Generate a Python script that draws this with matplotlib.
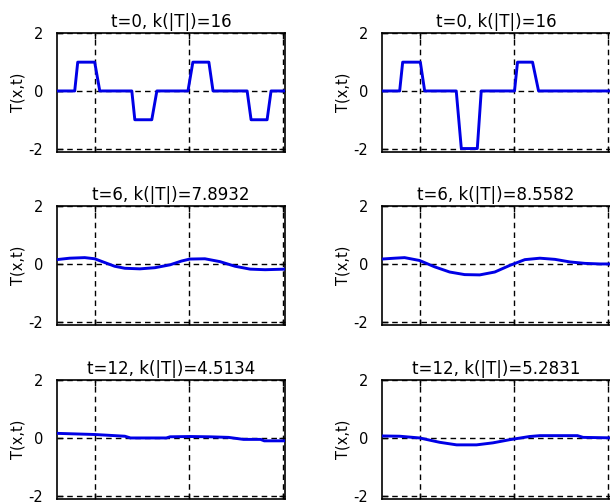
import numpy as np
import matplotlib
matplotlib.use("Agg")
import matplotlib.pyplot as plt

plt.rcParams['font.family'] = ['DejaVu Sans']

# data (x in axis units, x grid at 0 and 5)
x_a0 = [-2.02, -1.06, -0.9, 0.0, 0.27, 1.97, 2.13, 3.03, 3.3, 4.95, 5.21, 6.06, 6.28, 8.09, 8.30, 9.15, 9.36, 10.1]
y_a0 = [0, 0, 1, 1, 0, 0, -1, -1, 0, 0, 1, 1, 0, 0, -1, -1, 0, 0]

x_b0 = [-2.02, -1.06, -0.9, 0.04, 0.27, 1.95, 2.22, 3.07, 3.28, 5.05, 5.21, 6.01, 6.33, 10.5]
y_b0 = [0, 0, 1, 1, 0, 0, -2, -2, 0, 0, 1, 1, 0, 0]

x_a6 = [-2.02, -1.33, -0.53, 0.0, 0.53, 1.06, 1.6, 2.4, 3.2, 4.0, 4.6, 5.05, 5.85, 6.65, 7.45, 8.25, 9.04, 10.1]
y_a6 = [0.15, 0.2, 0.22, 0.18, 0.05, -0.08, -0.15, -0.17, -0.13, -0.03, 0.1, 0.17, 0.18, 0.08, -0.08, -0.18, -0.2, -0.18]

x_b6 = [-2.02, -1.33, -0.8, 0.0, 0.8, 1.6, 2.4, 3.2, 4.0, 4.8, 5.6, 6.4, 7.2, 8.0, 8.8, 9.6, 10.5]
y_b6 = [0.17, 0.2, 0.22, 0.12, -0.1, -0.28, -0.37, -0.38, -0.28, -0.05, 0.15, 0.2, 0.16, 0.07, 0.02, 0.0, 0.0]

x_a12 = [-2.02, 0.0, 1.6, 1.9, 3.8, 4.0, 5.05, 6.1, 7.1, 7.9, 8.8, 9.0, 10.1]
y_a12 = [0.16, 0.12, 0.06, 0.0, 0.0, 0.04, 0.05, 0.04, 0.02, -0.05, -0.05, -0.1, -0.1]

x_b12 = [-2.02, -1.06, 0.0, 1.06, 1.97, 3.03, 3.9, 4.8, 5.85, 6.4, 8.4, 8.7, 10.5]
y_b12 = [0.07, 0.06, 0.0, -0.15, -0.24, -0.24, -0.17, -0.06, 0.05, 0.08, 0.08, 0.02, 0.0]

titles = ['t=0, k(|T|)=16', 't=0, k(|T|)=16',
          't=6, k(|T|)=7.8932', 't=6, k(|T|)=8.5582',
          't=12, k(|T|)=4.5134', 't=12, k(|T|)=5.2831']
curves = [(x_a0, y_a0), (x_b0, y_b0), (x_a6, y_a6), (x_b6, y_b6), (x_a12, y_a12), (x_b12, y_b12)]
xticks = [0, 5, 10]
yticks = [-2, 0, 2]

fig = plt.figure(figsize=(6.10, 5.04), dpi=100)
W, H = 610.0, 504.0
lefts = [57, 382]
widths = [228, 234]   # right column runs past the edge of the picture
xmax = [10.1, 10.45]
bottoms = [152, 325, 499]
ah = 119.5

for i in range(6):
    r, c = i // 2, i % 2
    ax = fig.add_axes([lefts[c] / W, 1 - bottoms[r] / H, widths[c] / W, ah / H])
    x, y = curves[i]
    ax.plot(x, y, color='#0000e6', lw=2.1, zorder=3)
    ax.set_xlim(-2, xmax[c])
    ax.set_ylim(-2.12, 2.03)
    ax.set_xticks(xticks)
    ax.set_xticklabels([])
    ax.set_yticks(yticks)
    ax.set_yticklabels(['-2', '0', '2'], fontsize=10.5)
    ax.grid(True, color='k', linestyle=(0, (4, 3)), lw=1.0)
    ax.tick_params(direction='in', length=4, top=True, right=True, pad=10, width=1)
    for s in ax.spines.values():
        s.set_linewidth(1.2)
    ax.set_ylabel('T(x,t)', fontsize=10.5, labelpad=2)
    ax.set_title(titles[i], fontsize=12, pad=4, x=(0.5 * 228) / widths[c])

fig.savefig('out.png', dpi=100, facecolor='white')
